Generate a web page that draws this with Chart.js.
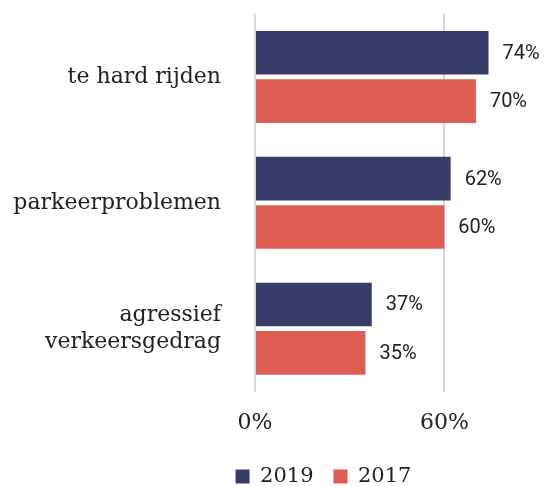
<!DOCTYPE html>
<html>
<head>
<meta charset="utf-8">
<script src="https://cdn.jsdelivr.net/npm/chart.js@4"></script>
<style>
  html, body { margin: 0; padding: 0; background: #fff; }
  #wrap { width: 548px; height: 486px; }
</style>
</head>
<body>
<div id="wrap"><canvas id="verkeerChart" width="548" height="486"></canvas></div>
<script>
// Data
const categories = ['te hard rijden', 'parkeerproblemen', ['agressief', 'verkeersgedrag']];
const values2019 = [74, 62, 37];
const values2017 = [70, 60, 35];
const tickValues = [0, 60];

const serif = '"DejaVu Serif", "Liberation Serif", serif';

// Draw the percentage next to each bar
const valueLabels = {
    id: 'valueLabels',
    afterDatasetsDraw(chart) {
        const ctx = chart.ctx;
        ctx.save();
        ctx.font = '20px Roboto, "Noto Sans", sans-serif';
        ctx.fillStyle = '#222';
        ctx.textAlign = 'left';
        ctx.textBaseline = 'middle';
        chart.data.datasets.forEach(function(ds, i) {
            chart.getDatasetMeta(i).data.forEach(function(bar, j) {
                ctx.fillText(ds.data[j] + '%', bar.x + 14, bar.y + 1);
            });
        });
        ctx.restore();
    }
};

// Move the legend a bit right and down, like the reference
const legendShift = {
    id: 'legendShift',
    afterLayout(chart) {
        chart.legend.left += 54;
        chart.legend.right += 54;
        chart.legend.top += 11;
        chart.legend.bottom += 11;
    }
};

new Chart(document.getElementById('verkeerChart').getContext('2d'), {
    type: 'bar',
    data: {
        labels: categories,
        datasets: [{
            label: '2019',
            data: values2019,
            backgroundColor: '#383c69',
            categoryPercentage: 0.77,
            barPercentage: 0.9
        }, {
            label: '2017',
            data: values2017,
            backgroundColor: '#dd5d53',
            categoryPercentage: 0.77,
            barPercentage: 0.9
        }]
    },
    options: {
        indexAxis: 'y',
        responsive: false,
        animation: false,
        layout: { padding: { top: 14, right: 9, left: 0, bottom: 0 } },
        scales: {
            x: {
                min: 0,
                max: 90,
                afterBuildTicks: function(axis) {
                    axis.ticks = tickValues.map(v => ({ value: v }));
                },
                afterFit: function(scale) { scale.height -= 19; },
                grid: { color: '#d9d9d9', lineWidth: 2, drawTicks: false },
                border: { display: false },
                ticks: {
                    padding: 18,
                    color: '#222',
                    font: { family: serif, size: 22 },
                    callback: v => v + '%'
                }
            },
            y: {
                grid: { display: false, drawTicks: false },
                border: { display: false },
                afterFit: function(scale) {
                    scale.width = 255;
                    scale.paddingTop = 0;
                    scale.paddingBottom = 0;
                },
                ticks: {
                    padding: 34,
                    color: '#222',
                    font: { family: serif, size: 22 }
                }
            }
        },
        plugins: {
            legend: {
                position: 'bottom',
                labels: {
                    boxWidth: 14,
                    boxHeight: 14,
                    padding: 20,
                    color: '#222',
                    font: { family: serif, size: 21 }
                }
            },
            tooltip: { enabled: false }
        }
    },
    plugins: [valueLabels, legendShift]
});
</script>
</body>
</html>
